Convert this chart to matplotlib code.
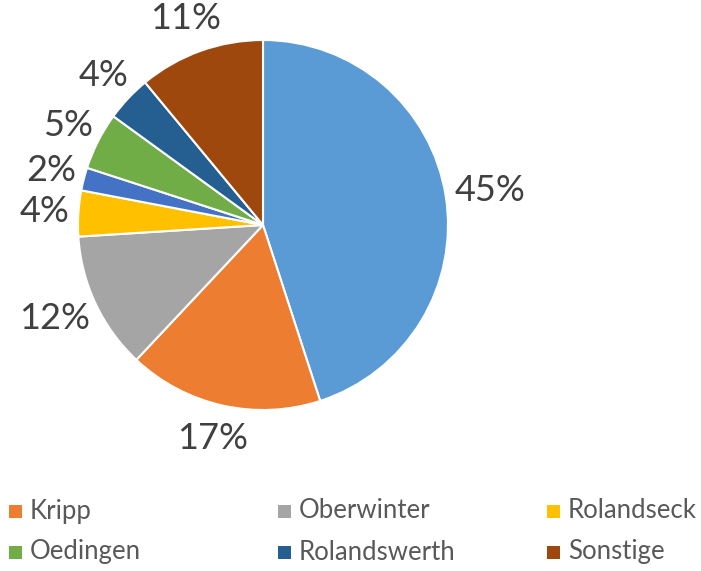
import numpy as np
import matplotlib
matplotlib.use('Agg')
import matplotlib.pyplot as plt
from matplotlib.patches import Rectangle

plt.rcParams['font.family'] = ['Lato', 'DejaVu Sans']

# slices, clockwise from 12 o'clock
names = ['Remagen', 'Kripp', 'Oberwinter', 'Rolandseck', 'Unkelbach',
         'Oedingen', 'Rolandswerth', 'Sonstige']
shares = [45, 17, 12, 4, 2, 5, 4, 11]
colors = ['#5B9BD5', '#ED7D31', '#A5A5A5', '#FFC000', '#4472C4',
          '#70AD47', '#255E91', '#9E480E']

# legend as shown in the picture (row by row)
legend_names = ['Kripp', 'Oberwinter', 'Rolandseck',
                'Oedingen', 'Rolandswerth', 'Sonstige']

W, H = 701, 571
fig = plt.figure(figsize=(W / 100, H / 100), dpi=100)

cx, cy, r = 263, 225, 185
ax = fig.add_axes([(cx - r) / W, (H - cy - r) / H, 2 * r / W, 2 * r / H])
wedges, texts = ax.pie(
    shares, colors=colors, startangle=90, counterclock=False, radius=1,
    wedgeprops=dict(edgecolor='white', linewidth=1.5))
ax.set_xlim(-1, 1)
ax.set_ylim(-1, 1)
ax.set_aspect('equal')
ax.axis('off')

# percent labels just outside each wedge (outside end, like excel)
gap = 12
for w, v in zip(wedges, shares):
    mid = np.deg2rad((w.theta1 + w.theta2) / 2)
    ux, uy = np.cos(mid), np.sin(mid)
    lab = f'{v}%'
    tw = 22 * len(lab)
    th = 44
    ax.annotate(lab, xy=(ux, uy), xycoords='data',
                xytext=(ux * (gap + tw / 2), uy * (gap + th / 2)),
                textcoords='offset pixels', ha='center', va='center',
                fontsize=26, color='#404040')

col_x = [9, 278, 547]
row_y = [511, 552]
for i, name in enumerate(legend_names):
    color = colors[names.index(name)]
    x = col_x[i % 3]
    y = row_y[i // 3]
    fig.patches.append(Rectangle((x / W, (H - y - 6.5) / H), 13 / W, 13 / H,
                                 transform=fig.transFigure, facecolor=color,
                                 edgecolor='none'))
    fig.text((x + 21) / W, (H - y) / H, name, fontsize=18.5, color='#595959',
             va='center', ha='left')

fig.savefig('out.png', dpi=100)
